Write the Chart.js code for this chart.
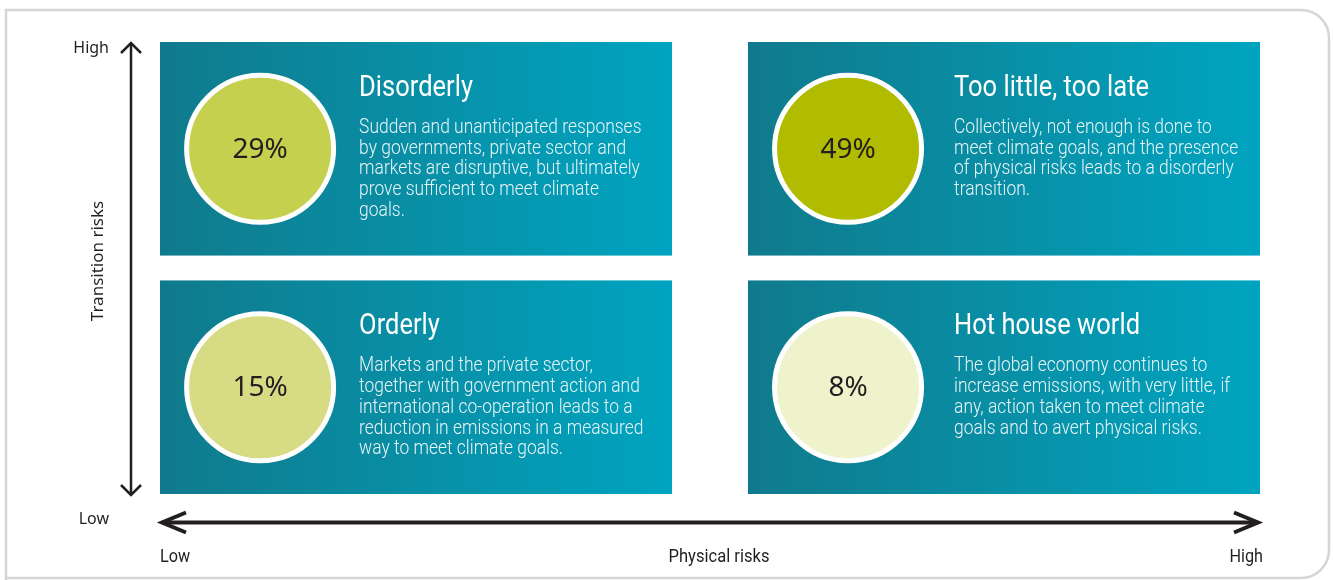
<!DOCTYPE html>
<html>
<head>
<meta charset="utf-8">
<script src="https://cdn.jsdelivr.net/npm/chart.js@4.4.1/dist/chart.umd.min.js"></script>
<style>
  html, body { margin: 0; padding: 0; background: #fff; }
  #wrap { width: 1333px; height: 580px; position: relative; }
</style>
</head>
<body>
<div id="wrap"><canvas id="matrix"></canvas></div>
<script>
/* =========================================================
   DATA
========================================================= */
const scenarios = ["Disorderly", "Too little, too late", "Orderly", "Hot house world"];
const shares = [29, 49, 15, 8];
const physicalRisk = ["Low", "High", "Low", "High"];
const transitionRisk = ["High", "High", "Low", "Low"];
const descriptions = [
  ["Sudden and unanticipated responses", "by governments, private sector and", "markets are disruptive, but ultimately", "prove sufficient to meet climate", "goals."],
  ["Collectively, not enough is done to", "meet climate goals, and the presence", "of physical risks leads to a disorderly", "transition."],
  ["Markets and the private sector,", "together with government action and", "international co-operation leads to a", "reduction in emissions in a measured", "way to meet climate goals."],
  ["The global economy continues to", "increase emissions, with very little, if", "any, action taken to meet climate", "goals and to avert physical risks."]
];
const riskLevels = ["Low", "High"];
const xAxisTitle = "Physical risks";
const yAxisTitle = "Transition risks";

/* =========================================================
   STYLE
========================================================= */
const CIRCLE_COLORS = ["#c6d04f", "#b1bb00", "#d6db84", "#eff3cc"];
const BOX_W = 0.931;     // share of one axis unit a box covers
const BOX_H = 0.945;
const CIRCLE_DX = 0.182; // circle centre from box left, x units
const TEXT_DX = [99, 106];
const INK = "#231f20";
const TEAL_DARK = "#107a8c";
const TEAL_LIGHT = "#00a4c0";

function boxOf(i) {
  const c = riskLevels.indexOf(physicalRisk[i]);
  const r = riskLevels.indexOf(transitionRisk[i]);
  return {
    col: c,
    x0: c === 0 ? 0 : 2 - BOX_W,
    x1: c === 0 ? BOX_W : 2,
    y0: r === 0 ? 0 : 2 - BOX_H,
    y1: r === 0 ? BOX_H : 2
  };
}

const points = scenarios.map((s, i) => {
  const b = boxOf(i);
  return { x: b.x0 + CIRCLE_DX, y: (b.y0 + b.y1) / 2 };
});

function condensed(ctx, text, x, y, font, sx, align, color) {
  ctx.save();
  ctx.font = font;
  ctx.fillStyle = color;
  ctx.textAlign = align || "left";
  ctx.textBaseline = "alphabetic";
  ctx.translate(x, y);
  ctx.scale(sx, 1);
  ctx.fillText(text, 0, 0);
  ctx.restore();
}

/* =========================================================
   PLUGINS
========================================================= */
const framePlugin = {
  id: "frame",
  beforeDraw(chart) {
    const ctx = chart.ctx;
    const L = 6, T = 10, R = chart.width - 4, B = chart.height - 2, rad = 28;
    ctx.save();
    ctx.strokeStyle = "#d5d5d5";
    ctx.lineWidth = 2.5;
    ctx.beginPath();
    ctx.moveTo(L, B + 10);
    ctx.lineTo(L, T);
    ctx.lineTo(R - rad, T);
    ctx.arcTo(R, T, R, T + rad, rad);
    ctx.lineTo(R, B - rad);
    ctx.arcTo(R, B, R - rad, B, rad);
    ctx.lineTo(L, B);
    ctx.stroke();
    ctx.restore();
  },
  beforeDatasetsDraw(chart) {
    const ctx = chart.ctx;
    const xs = chart.scales.x, ys = chart.scales.y;
    scenarios.forEach((s, i) => {
      const b = boxOf(i);
      const left = xs.getPixelForValue(b.x0), right = xs.getPixelForValue(b.x1);
      const top = ys.getPixelForValue(b.y1), bottom = ys.getPixelForValue(b.y0);
      const g = ctx.createLinearGradient(left, 0, right, 0);
      g.addColorStop(0, TEAL_DARK);
      g.addColorStop(1, TEAL_LIGHT);
      ctx.fillStyle = g;
      ctx.fillRect(left, top, right - left, bottom - top);
    });
  }
};

function chevron(ctx, tipX, tipY, dx, dy, len, half) {
  // dx,dy: unit direction the arrow points to
  const bx = tipX - dx * len, by = tipY - dy * len;
  ctx.beginPath();
  ctx.moveTo(bx - dy * half, by + dx * half);
  ctx.lineTo(tipX, tipY);
  ctx.lineTo(bx + dy * half, by - dx * half);
  ctx.stroke();
}

const labelPlugin = {
  id: "labels",
  afterDatasetsDraw(chart) {
    const ctx = chart.ctx;
    const xs = chart.scales.x, ys = chart.scales.y;
    const meta = chart.getDatasetMeta(0);

    // percentages, titles, descriptions
    scenarios.forEach((s, i) => {
      const el = meta.data[i];
      const b = boxOf(i);
      const top = ys.getPixelForValue(b.y1);
      ctx.save();
      ctx.font = "400 28px 'Noto Sans'";
      ctx.fillStyle = INK;
      ctx.textAlign = "center";
      ctx.textBaseline = "middle";
      ctx.fillText(shares[i] + "%", el.x, el.y + 1);
      ctx.restore();

      const tx = el.x + TEXT_DX[b.col];
      condensed(ctx, s, tx, top + 54, "400 30px Roboto", 0.85, "left", "#ffffff");
      descriptions[i].forEach((line, k) => {
        condensed(ctx, line, tx, top + 91 + k * 20.7, "300 19.5px Roboto", 0.894, "left", "#eaf5f7");
      });
    });

    // axes arrows
    const ax = xs.left - 29;
    const ay = ys.bottom + 28.5;
    ctx.save();
    ctx.strokeStyle = INK;
    ctx.lineCap = "butt";
    ctx.lineJoin = "miter";
    ctx.lineWidth = 2.5;
    ctx.beginPath();
    ctx.moveTo(ax, ys.top + 1);
    ctx.lineTo(ax, ys.bottom + 1);
    ctx.stroke();
    chevron(ctx, ax, ys.top + 1, 0, -1, 10, 10);
    chevron(ctx, ax, ys.bottom + 1, 0, 1, 10, 10);

    ctx.lineWidth = 4;
    ctx.beginPath();
    ctx.moveTo(xs.left + 2, ay);
    ctx.lineTo(xs.right - 2, ay);
    ctx.stroke();
    chevron(ctx, xs.left + 2, ay, -1, 0, 24, 10);
    chevron(ctx, xs.right - 2, ay, 1, 0, 24, 10);
    ctx.restore();

    // y-axis labels
    ctx.save();
    ctx.font = "400 16px 'Noto Sans'";
    ctx.fillStyle = INK;
    ctx.textAlign = "right";
    ctx.fillText(riskLevels[1], xs.left - 51, ys.top + 11);
    ctx.fillText(riskLevels[0], xs.left - 51, ys.bottom + 30);
    ctx.translate(xs.left - 57, (ys.top + ys.bottom) / 2 - 7);
    ctx.rotate(-Math.PI / 2);
    ctx.textAlign = "center";
    ctx.font = "400 17px 'Noto Sans'";
    ctx.fillText(yAxisTitle, 0, 0);
    ctx.restore();

    // x-axis labels
    const lb = ys.bottom + 68;
    const xf = "400 18px Roboto";
    condensed(ctx, riskLevels[0], xs.left, lb, xf, 0.9, "left", INK);
    condensed(ctx, riskLevels[1], xs.right + 3, lb, xf, 0.9, "right", INK);
    condensed(ctx, xAxisTitle, (xs.left + xs.right) / 2 + 9, lb, xf, 0.92, "center", INK);
  }
};

/* =========================================================
   CHART
========================================================= */
new Chart(document.getElementById("matrix"), {
  type: "bubble",
  data: {
    datasets: [{
      label: "Share of respondents",
      data: points,
      backgroundColor: CIRCLE_COLORS,
      borderColor: "#ffffff",
      borderWidth: 5,
      radius: 73.5
    }]
  },
  options: {
    responsive: true,
    maintainAspectRatio: false,
    animation: false,
    events: [],
    layout: { autoPadding: false, padding: { left: 160, right: 73, top: 42, bottom: 86 } },
    scales: {
      x: { type: "linear", min: 0, max: 2, display: false },
      y: { type: "linear", min: 0, max: 2, display: false }
    },
    plugins: {
      legend: { display: false },
      tooltip: { enabled: false }
    }
  },
  plugins: [framePlugin, labelPlugin]
});
</script>
</body>
</html>
